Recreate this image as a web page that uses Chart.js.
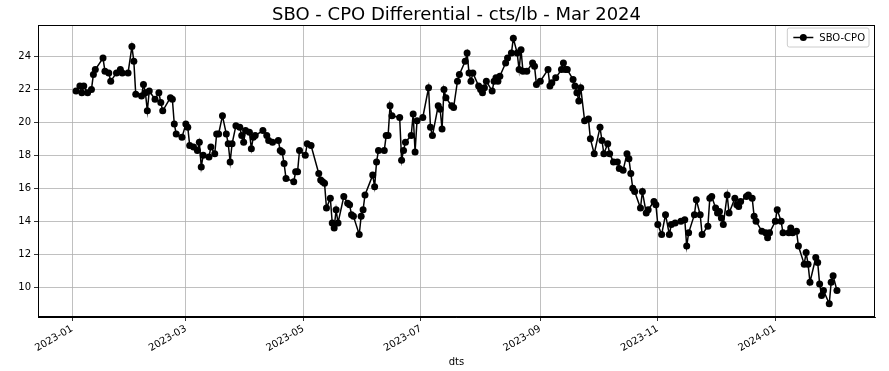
<!DOCTYPE html>
<html><head><meta charset="utf-8">
<script src="https://cdn.jsdelivr.net/npm/chart.js@4"></script>
<style>html,body{margin:0;padding:0;background:#fff;}canvas{display:block;}</style>
</head><body>
<canvas id="c" width="889" height="371"></canvas>
<script>
const titleText = 'SBO - CPO Differential - cts/lb - Mar 2024';
const xAxisLabel = 'dts';
const seriesName = 'SBO-CPO';
const xTickDates = ['2023-01-01','2023-03-01','2023-05-01','2023-07-01','2023-09-01','2023-11-01','2024-01-01'];
const xTickLabels = ['2023-01','2023-03','2023-05','2023-07','2023-09','2023-11','2024-01'];
const yTicks = [10,12,14,16,18,20,22,24];

const dates = [
'2023-01-03','2023-01-05','2023-01-06','2023-01-07','2023-01-09','2023-01-11','2023-01-12','2023-01-13','2023-01-17','2023-01-18',
'2023-01-20','2023-01-21','2023-01-24','2023-01-26','2023-01-27','2023-01-30','2023-02-01','2023-02-02','2023-02-03','2023-02-06',
'2023-02-07','2023-02-08','2023-02-09','2023-02-10','2023-02-13','2023-02-15','2023-02-16','2023-02-17','2023-02-21','2023-02-22',
'2023-02-23','2023-02-24','2023-02-27','2023-03-01','2023-03-02','2023-03-03','2023-03-05','2023-03-07','2023-03-08','2023-03-09',
'2023-03-10','2023-03-13','2023-03-14','2023-03-16','2023-03-17','2023-03-18','2023-03-20','2023-03-22','2023-03-23','2023-03-24',
'2023-03-25','2023-03-27','2023-03-29','2023-03-30','2023-03-31','2023-04-01','2023-04-03','2023-04-04','2023-04-05','2023-04-06',
'2023-04-10','2023-04-12','2023-04-13','2023-04-15','2023-04-18','2023-04-19','2023-04-20','2023-04-21','2023-04-22','2023-04-26',
'2023-04-27','2023-04-28','2023-04-29','2023-05-02','2023-05-03','2023-05-05','2023-05-09','2023-05-10','2023-05-11','2023-05-12',
'2023-05-13','2023-05-15','2023-05-16','2023-05-17','2023-05-18','2023-05-19','2023-05-22','2023-05-24','2023-05-25','2023-05-26',
'2023-05-27','2023-05-30','2023-05-31','2023-06-01','2023-06-02','2023-06-06','2023-06-07','2023-06-08','2023-06-09','2023-06-12',
'2023-06-13','2023-06-14','2023-06-15','2023-06-16','2023-06-20','2023-06-21','2023-06-22','2023-06-23','2023-06-26','2023-06-27',
'2023-06-28','2023-06-29','2023-07-02','2023-07-05','2023-07-06','2023-07-07','2023-07-10','2023-07-11','2023-07-12','2023-07-13',
'2023-07-14','2023-07-17','2023-07-18','2023-07-20','2023-07-21','2023-07-24','2023-07-25','2023-07-26','2023-07-27','2023-07-28',
'2023-07-31','2023-08-01','2023-08-02','2023-08-03','2023-08-04','2023-08-07','2023-08-08','2023-08-09','2023-08-10','2023-08-11',
'2023-08-14','2023-08-15','2023-08-17','2023-08-18','2023-08-20','2023-08-21','2023-08-22','2023-08-23','2023-08-25','2023-08-28',
'2023-08-29','2023-08-30','2023-09-01','2023-09-05','2023-09-06','2023-09-07','2023-09-09','2023-09-12','2023-09-13','2023-09-14',
'2023-09-15','2023-09-18','2023-09-19','2023-09-20','2023-09-21','2023-09-22','2023-09-24','2023-09-26','2023-09-27','2023-09-29',
'2023-10-02','2023-10-03','2023-10-04','2023-10-06','2023-10-07','2023-10-09','2023-10-11','2023-10-12','2023-10-14','2023-10-16',
'2023-10-17','2023-10-18','2023-10-19','2023-10-20','2023-10-23','2023-10-24','2023-10-26','2023-10-27','2023-10-30','2023-10-31',
'2023-11-01','2023-11-03','2023-11-05','2023-11-07','2023-11-08','2023-11-10','2023-11-13','2023-11-15','2023-11-16','2023-11-17',
'2023-11-20','2023-11-21','2023-11-23','2023-11-24','2023-11-27','2023-11-28','2023-11-29','2023-12-01','2023-12-02','2023-12-03',
'2023-12-04','2023-12-05','2023-12-07','2023-12-08','2023-12-11','2023-12-12','2023-12-13','2023-12-14','2023-12-17','2023-12-18',
'2023-12-20','2023-12-21','2023-12-22','2023-12-25','2023-12-27','2023-12-28','2023-12-29','2024-01-01','2024-01-02','2024-01-04',
'2024-01-05','2024-01-08','2024-01-09','2024-01-10','2024-01-12','2024-01-13','2024-01-16','2024-01-17','2024-01-18','2024-01-19',
'2024-01-22','2024-01-23','2024-01-24','2024-01-25','2024-01-26','2024-01-29','2024-01-30','2024-01-31','2024-02-02'
];

const sboCpo = [
21.9,22.2,21.8,22.2,21.8,22.0,22.9,23.2,23.9,23.1,
23.0,22.5,23.0,23.2,23.0,23.0,24.6,23.7,21.7,21.6,
22.3,21.8,20.7,21.9,21.4,21.8,21.2,20.7,21.5,21.4,
19.9,19.3,19.1,19.9,19.7,18.6,18.5,18.3,18.8,17.3,
18.0,17.9,18.5,18.1,19.3,19.3,20.4,19.3,18.7,17.6,
18.7,19.8,19.7,19.2,18.8,19.5,19.4,18.4,19.1,19.2,
19.5,19.2,18.9,18.8,18.9,18.3,18.2,17.5,16.6,16.4,
17.0,17.0,18.3,18.0,18.7,18.6,16.9,16.5,16.4,16.3,
14.8,15.4,13.9,13.6,14.7,13.9,15.5,15.1,15.0,14.4,
14.3,13.2,14.3,14.7,15.6,16.8,16.1,17.6,18.3,18.3,
19.2,19.2,21.0,20.4,20.3,17.7,18.3,18.8,19.2,20.5,
18.2,20.1,20.3,22.1,19.7,19.2,21.0,20.8,19.6,22.0,
21.5,21.0,20.9,22.5,22.9,23.7,24.2,23.0,22.5,23.0,
22.2,22.0,21.8,22.1,22.5,21.9,22.5,22.7,22.5,22.8,
23.6,23.9,24.2,25.1,24.2,23.2,24.4,23.1,23.1,23.6,
23.4,22.3,22.5,23.2,22.2,22.4,22.7,23.2,23.6,23.2,
23.2,22.6,22.2,21.8,21.3,22.1,20.1,20.2,19.0,18.1,
19.7,18.9,18.1,18.7,18.1,17.6,17.6,17.2,17.1,18.1,
17.8,16.9,16.0,15.8,14.8,15.8,14.5,14.7,15.2,15.0,
13.8,13.2,14.4,13.2,13.8,13.9,14.0,14.1,12.5,13.3,
14.4,15.3,14.4,13.2,13.7,15.4,15.5,14.8,14.5,14.6,
14.2,13.8,15.6,14.5,15.4,15.0,14.9,15.2,15.5,15.6,
15.4,14.3,14.0,13.4,13.3,13.0,13.3,14.0,14.7,14.0,
13.3,13.3,13.6,13.3,13.4,12.5,11.4,12.1,11.4,10.3,
11.8,11.5,10.2,9.5,9.8,9.0,10.3,10.7,9.8
];

const FONT = "'DejaVu Sans', sans-serif";
const DAY = 86400000;
const ORIGIN = Date.UTC(2023, 0, 1);
const toDay = s => (Date.parse(s + 'T00:00:00Z') - ORIGIN) / DAY;
const points = dates.map((d, i) => ({x: toDay(d), y: sboCpo[i]}));
const xs = points.map(p => p.x);
const xLo = Math.min(...xs), xHi = Math.max(...xs);
const yLo = Math.min(...sboCpo), yHi = Math.max(...sboCpo);
const mx = (xHi - xLo) * 0.05, my = (yHi - yLo) * 0.05;

const framePlugin = {
  id: 'frameLegend',
  afterDraw(chart) {
    const ctx = chart.ctx, a = chart.chartArea;
    ctx.save();
    ctx.strokeStyle = '#000'; ctx.lineWidth = 1;
    ctx.strokeRect(Math.round(a.left) + 0.5, Math.round(a.top) + 0.5, Math.round(a.right - a.left) - 1, Math.round(a.bottom - a.top) - 1);
    // title
    ctx.fillStyle = '#000';
    ctx.font = '18px ' + FONT;
    ctx.textAlign = 'center'; ctx.textBaseline = 'alphabetic';
    ctx.fillText(titleText, (a.left + a.right) / 2, 19.5);
    // legend
    ctx.font = '10px ' + FONT;
    const tw = ctx.measureText(seriesName).width;
    const bw = 30 + tw + 6, bh = 19;
    const bx = a.right - 6 - bw, by = a.top + 3;
    ctx.beginPath();
    const r = 2;
    ctx.moveTo(bx + r, by); ctx.lineTo(bx + bw - r, by); ctx.quadraticCurveTo(bx + bw, by, bx + bw, by + r);
    ctx.lineTo(bx + bw, by + bh - r); ctx.quadraticCurveTo(bx + bw, by + bh, bx + bw - r, by + bh);
    ctx.lineTo(bx + r, by + bh); ctx.quadraticCurveTo(bx, by + bh, bx, by + bh - r);
    ctx.lineTo(bx, by + r); ctx.quadraticCurveTo(bx, by, bx + r, by);
    ctx.fillStyle = 'rgba(255,255,255,0.8)'; ctx.fill();
    ctx.strokeStyle = '#cccccc'; ctx.lineWidth = 1; ctx.stroke();
    const cy = by + bh / 2;
    ctx.strokeStyle = '#000'; ctx.lineWidth = 1.5;
    ctx.beginPath(); ctx.moveTo(bx + 6, cy); ctx.lineTo(bx + 26, cy); ctx.stroke();
    ctx.fillStyle = '#000';
    ctx.beginPath(); ctx.arc(bx + 16, cy, 3.5, 0, Math.PI * 2); ctx.fill();
    ctx.textBaseline = 'middle'; ctx.textAlign = 'left';
    ctx.fillText(seriesName, bx + 32, cy + 0.5);
    ctx.restore();
  }
};

new Chart(document.getElementById('c'), {
  type: 'line',
  data: {
    datasets: [{
      label: seriesName,
      data: points,
      borderColor: '#000',
      backgroundColor: '#000',
      borderWidth: 1.5,
      pointRadius: 3.5,
      pointHoverRadius: 3.5,
      pointBorderWidth: 0,
      tension: 0
    }]
  },
  options: {
    responsive: false,
    animation: false,
    devicePixelRatio: 1,
    layout: {padding: {left: 0, right: 14, top: 25, bottom: 0}},
    plugins: {
      legend: {display: false},
      tooltip: {enabled: false},
      title: {display: false}
    },
    scales: {
      x: {
        type: 'linear',
        min: xLo - mx, max: xHi + mx,
        afterBuildTicks: s => { s.ticks = xTickDates.map(d => ({value: toDay(d)})); },
        afterFit: s => { s.height = 54; },
        ticks: {
          autoSkip: false, maxRotation: 30, minRotation: 30,
          color: '#000', font: {family: FONT, size: 10}, padding: 2,
          callback: (v, i) => xTickLabels[i]
        },
        grid: {color: '#b0b0b0', lineWidth: 0.8, tickColor: '#000', tickLength: 4},
        border: {color: '#000', width: 1},
        title: {display: true, text: xAxisLabel, color: '#000', font: {family: FONT, size: 10}, padding: {top: 0, bottom: 3}}
      },
      y: {
        type: 'linear',
        min: yLo - my, max: yHi + my,
        afterBuildTicks: s => { s.ticks = yTicks.map(v => ({value: v})); },
        afterFit: s => { s.width = 38; },
        ticks: {color: '#000', font: {family: FONT, size: 10}, padding: 3},
        grid: {color: '#b0b0b0', lineWidth: 0.8, tickColor: '#000', tickLength: 4},
        border: {color: '#000', width: 1}
      }
    }
  },
  plugins: [framePlugin]
});
</script>
</body></html>
